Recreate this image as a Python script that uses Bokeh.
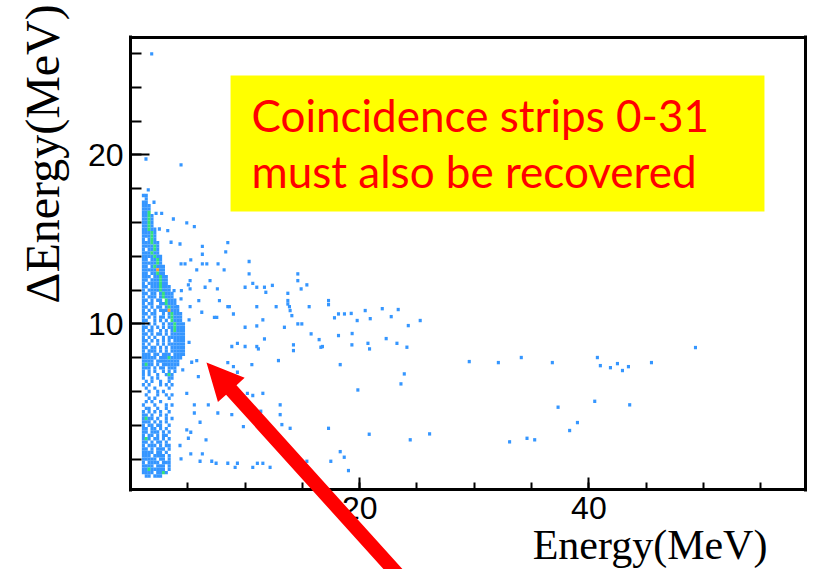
from bokeh.plotting import figure
from bokeh.models import (Range1d, FixedTicker, Label, BoxAnnotation, PolyAnnotation,
                          ColumnDataSource, LinearColorMapper, LinearAxis)
from bokeh.transform import transform
from bokeh.embed import file_html
from bokeh.resources import INLINE

# ---- isolated events (Energy, dE) in MeV ----
sparse_e = [1.85, 1.35, 4.41, 1.55, 2.05, 2.23, 2.72, 3.74, 4.91, 5.57, 3.25, 2.52, 3.54, 4.32,
            8.49, 8.31, 6.27, 6.27, 4.41, 4.76, 5.26, 6.27, 6.66, 7.64, 10.35, 5.78, 8.17, 10.35,
            14.60, 5.20, 6.94, 10.67, 14.60, 15.39, 5.05, 6.51, 7.58, 10.00, 11.02, 11.69, 12.38,
            11.81, 13.73, 14.89, 3.80, 4.44, 5.20, 5.96, 7.76, 4.41, 13.73, 13.73, 17.28, 17.28,
            8.49, 8.63, 11.02, 12.71, 13.87, 13.93, 15.59, 4.09, 5.20, 14.08, 8.98, 7.32, 7.53,
            6.22, 11.55, 18.15, 18.67, 17.80, 14.60, 14.95, 10.00, 11.02, 13.43, 5.11, 5.11, 15.76,
            16.46, 11.69, 18.15, 14.22, 14.22, 9.33, 8.84, 10.00, 11.02, 16.75, 5.78, 5.34, 8.49,
            8.98, 10.59, 12.91, 18.30, 5.92, 11.16, 16.61, 19.32, 20.72, 20.86, 23.25, 24.12, 9.33,
            23.89, 23.60, 4.56, 4.91, 10.20, 10.67, 11.55, 19.84, 5.57, 6.79, 13.06, 5.57, 7.62,
            8.84, 11.37, 13.06, 6.07, 13.21, 9.85, 13.93, 17.28, 4.91, 5.26, 5.05, 6.59, 20.83,
            24.41, 4.32, 5.26, 6.27, 18.30, 18.65, 4.41, 6.07, 7.09, 7.47, 8.49, 9.33, 9.13, 10.67,
            11.07, 11.55, 12.18, 15.39, 17.48, 19.02, 26.10, 33.08, 34.60, 35.27, 37.31, 38.32,
            39.00, 40.51, 43.56, 29.56, 32.10, 34.10, 36.81, 40.74, 41.00, 41.88, 42.49, 42.93,
            43.45, 45.46, 49.30, 19.26, 19.78, 20.48, 20.92, 21.97, 22.75, 23.36, 24.24, 19.34,
            22.31, 25.28]
sparse_de = [25.98, 19.76, 19.41, 17.93, 17.20, 16.54, 16.54, 16.21, 15.98, 15.76, 15.52, 15.62,
             14.83, 14.73, 14.81, 14.26, 14.59, 14.12, 13.55, 13.55, 13.79, 13.55, 13.55, 13.55,
             13.69, 13.20, 13.20, 12.96, 12.96, 12.56, 12.56, 12.40, 12.56, 12.31, 12.31, 12.17,
             12.07, 12.17, 12.17, 12.17, 12.28, 11.87, 11.81, 12.07, 11.97, 11.97, 12.07, 11.38,
             11.38, 11.48, 11.38, 11.18, 11.38, 11.14, 11.02, 11.02, 11.02, 11.02, 11.02, 10.79,
             11.02, 11.02, 11.02, 10.49, 10.59, 10.39, 10.39, 10.69, 10.24, 10.59, 10.59, 10.36,
             10.00, 10.00, 9.80, 9.88, 9.80, 10.24, 8.91, 9.41, 9.07, 9.11, 9.31, 8.76, 8.42, 8.85,
             8.66, 8.66, 8.66, 8.66, 7.83, 7.73, 7.71, 7.47, 7.59, 7.83, 7.59, 6.88, 8.52, 8.62,
             8.76, 8.85, 8.52, 8.85, 8.62, 7.14, 7.04, 6.45, 7.28, 5.89, 5.89, 5.76, 5.89, 6.09,
             5.21, 5.21, 5.21, 4.73, 4.73, 4.63, 4.83, 4.63, 4.18, 4.04, 3.92, 3.82, 3.82, 3.73,
             3.59, 3.23, 3.14, 3.47, 3.14, 2.80, 2.31, 2.31, 2.44, 2.11, 2.01, 1.87, 1.87, 1.75,
             1.75, 1.75, 1.51, 1.51, 1.75, 1.75, 1.51, 1.87, 1.87, 1.32, 3.49, 3.02, 3.23, 3.14,
             5.07, 3.69, 4.16, 5.42, 5.21, 7.77, 7.71, 8.01, 7.71, 8.01, 7.53, 7.41, 7.65, 7.24,
             7.47, 7.71, 8.60, 10.62, 10.20, 10.79, 10.31, 10.90, 10.43, 10.85, 9.90, 9.43, 9.13,
             10.20]

# ---- dense locus: 2D histogram contents, bins of 0.25 MeV (E) x 0.2 MeV (dE) ----
# first column starts at E = 1.0 MeV, first row is centred on dE = 17.6 MeV
locus_e_start = 1.0
locus_e_bin = 0.25
locus_de_first = 17.6
locus_de_bin = 0.2
locus_rows = [
    "11", ".1", "11", "111", "111", "113", "1131", "1131", "1131", "1131",
    "11311", "11131", "11131", "1.131", "111311", "111131", "1.1131", "111311",
    "1111311", "11.1131", "1111131", "11.13111", "11111511", "11.11311",
    "111.11311", "11.111311", "1.1111311", "11.1113111", "1.11113111",
    "11.11.13111", "1.111.13111", "11.1.11.3111", "1.11..113111",
    "11.1.11.13111", "1.1.1.1115111", "11.11..1.13111", "1.1.1.11.13111",
    "11..1.1.1.3111", "1.1.1..1.113111", "11.1.1.1.113111", "1.11..1.1.13111",
    "11.1.11.1.11111", "1.1.1..1.111111", "11.1.1.1.1.1111", "1.1..1.1.111111",
    "11.11.1.1.11111", "1.111.1.1.11111", "111.11.111.1111", "11111.11131111",
    "1111.11111111", "1311.1.111111", "111.1.11.111", "1.1.1..1.1.1",
    "1.1..1..131", "1..1.1...11", ".1.1..1..1.", "1.1...1.1.1", ".1..1....1",
    "..1..1.1...", ".1...1..1.1", "..1.1....1", ".1.1..1....", "1...1...1.1",
    ".11..1..1..", "1.1.1.1..1", "11.1..1.1.", "1311.1..1.1", "111.1.1.1.",
    "1.11.11..1", "11.11.1.1.", "11.111.1.1", "1.11.1.11.", "131.11.1.1",
    "11.1.11.1.", "1.111.1.11", "11.1.111.1", "1111.11.1.", "111.1111.1",
    "11111.11.1", "1.1111.111", "1111.111.1", "11311111.1", "1111.1131.",
    ".11.111..",
]

# ---- axis ticks ----
x_major = [20, 40]
x_minor = [5, 10, 15, 20, 25, 30, 35, 40, 45, 50, 55]
y_major = [10, 20]
y_minor = [2, 4, 6, 8, 10, 12, 14, 16, 18, 20, 22, 24, 26]

# histogram frame limits
E_LO, E_HI = 0.0, 58.9
DE_LO, DE_HI = 0.2, 26.95

# expand the histogram rows into filled cells
cell_e, cell_de, cell_n = [], [], []
for i, row in enumerate(locus_rows):
    for j, ch in enumerate(row):
        if ch != ".":
            cell_e.append(locus_e_start + (j + 0.5) * locus_e_bin)
            cell_de.append(locus_de_first - i * locus_de_bin)
            cell_n.append(int(ch))
cell_e += sparse_e
cell_de += sparse_de
cell_n += [1] * len(sparse_e)

src = ColumnDataSource(dict(e=cell_e, de=cell_de, n=cell_n))
palette = ["#3596ff", "#2f92ff", "#35e27c", "#a8ee34", "#ff9b30"]
mapper = LinearColorMapper(palette=palette, low=1, high=5)

# the canvas is one big frame; the histogram box is drawn by axes at fixed locations
p = figure(width=820, height=569, x_range=Range1d(-11.344, 60.21), y_range=Range1d(-4.535, 29.14),
           output_backend="svg", toolbar_location=None,
           min_border_left=0, min_border_right=0, min_border_top=0, min_border_bottom=0)
p.background_fill_color = "white"
p.border_fill_color = "white"
p.outline_line_color = None
p.xgrid.visible = False
p.ygrid.visible = False

p.rect(x="e", y="de", width=0.27, height=0.2, source=src,
       fill_color=transform("n", mapper), line_color=None)

pad_e, pad_de = 0.13, 0.09
for ax in (p.xaxis[0], p.yaxis[0]):
    ax.axis_line_width = 3
    ax.axis_line_color = "black"
    ax.major_tick_out = 0
    ax.minor_tick_out = 0
    ax.major_tick_line_width = 2
    ax.minor_tick_line_width = 2
    ax.major_tick_line_color = "black"
    ax.minor_tick_line_color = "black"
    ax.major_label_text_font = "Liberation Sans"
    ax.major_label_text_font_size = "32px"
    ax.major_label_text_color = "black"

p.xaxis.fixed_location = DE_LO
p.xaxis.bounds = (E_LO - pad_e, E_HI + pad_e)
p.xaxis.ticker = FixedTicker(ticks=x_major, minor_ticks=x_minor)
p.xaxis.major_tick_in = 12
p.xaxis.minor_tick_in = 7
p.xaxis.major_label_standoff = 8

p.yaxis.fixed_location = E_LO
p.yaxis.bounds = (DE_LO - pad_de, DE_HI + pad_de)
p.yaxis.ticker = FixedTicker(ticks=y_major, minor_ticks=y_minor)
p.yaxis.major_tick_in = 19
p.yaxis.minor_tick_in = 11
p.yaxis.major_label_standoff = 7
p.yaxis.major_label_orientation = "horizontal"

# top and right edges of the histogram box
for side, loc, bnds in (("right", E_HI, (DE_LO - pad_de, DE_HI + pad_de)),
                        ("above", DE_HI, (E_LO - pad_e, E_HI + pad_e))):
    edge = LinearAxis(fixed_location=loc, bounds=bnds, ticker=FixedTicker(ticks=[]),
                      axis_line_width=3, axis_line_color="black",
                      major_tick_line_color=None, minor_tick_line_color=None,
                      major_label_text_alpha=0)
    p.add_layout(edge, side)

# axis titles, right-aligned in the ROOT manner
p.add_layout(Label(x=55.58, y=-3.11, text="Energy(MeV)", text_align="right",
                   text_baseline="alphabetic", text_font="Liberation Serif",
                   text_font_size="42px", text_color="black"))
p.add_layout(Label(x=-7.68, y=11.21, text="\u0394Energy(MeV)", angle=90, angle_units="deg",
                   text_align="left", text_baseline="alphabetic", text_font="Liberation Serif",
                   text_font_size="48px", text_color="black"))

# note box
p.add_layout(BoxAnnotation(left=8.73, right=55.32, top=24.70, bottom=16.65,
                           fill_color="#ffff00", fill_alpha=1.0, line_color=None))
p.add_layout(Label(x=10.56, y=22.34, text="Coincidence strips 0-31", text_font="Lato",
                   text_font_size="44px", text_color="#ff0000", text_baseline="alphabetic"))
p.add_layout(Label(x=10.56, y=19.02, text="must also be recovered", text_font="Lato",
                   text_font_size="44px", text_color="#ff0000", text_baseline="alphabetic"))

# red block arrow pointing at the locus edge
arrow_e = [6.63, 9.96, 9.25, 26.38, 25.47, 8.34, 7.63]
arrow_de = [7.72, 6.81, 6.37, -6.50, -7.06, 5.81, 5.38]
p.add_layout(PolyAnnotation(xs=arrow_e, ys=arrow_de, fill_color="#ff0000", fill_alpha=1.0,
                            line_color=None))

open("out.html", "w").write(file_html(p, INLINE))
